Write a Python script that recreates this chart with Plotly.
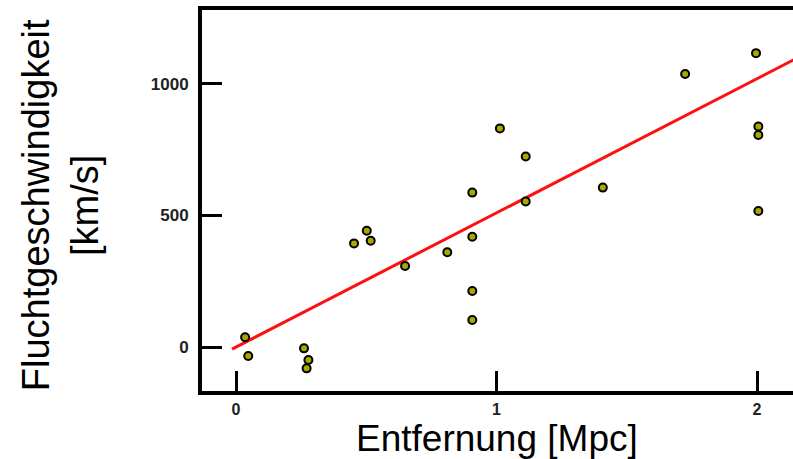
import plotly.graph_objects as go

# Data
distance_mpc = [0.035, 0.047, 0.261, 0.278, 0.271, 0.453, 0.502, 0.517, 0.649, 0.811,
                0.907, 0.907, 0.907, 0.907, 1.013, 1.112, 1.112, 1.408, 1.724, 1.996,
                2.005, 2.005, 2.005]
velocity_kms = [37, -34, -5, -49, -81, 394, 442, 404, 308, 360,
                587, 419, 213, 103, 831, 724, 553, 606, 1038, 1117,
                838, 806, 517]

fit_x = [-0.015, 2.25]
fit_slope = 510
fit_y = [fit_slope * v for v in fit_x]

x_ticks = [0, 1, 2]
x_tick_labels = ["0", "1", "2"]
y_ticks = [0, 500, 1000]
y_tick_labels = ["0", "500", "1000"]

fig = go.Figure()
fig.add_trace(go.Scatter(x=fit_x, y=fit_y, mode="lines",
                         line=dict(color="#ff1010", width=3), hoverinfo="skip"))
fig.add_trace(go.Scatter(x=distance_mpc, y=velocity_kms, mode="markers",
                         marker=dict(size=8, color="#a8a800",
                                     line=dict(color="black", width=2))))

fig.update_layout(
    width=793, height=459,
    margin=dict(l=202, r=0, t=10, b=68),
    paper_bgcolor="white", plot_bgcolor="white",
    showlegend=False,
    font=dict(family="Liberation Sans, Arial, sans-serif", color="black"),
)
fig.update_xaxes(range=[-0.1305, 2.138], showgrid=False, zeroline=False,
                 showline=True, linecolor="black", linewidth=4, mirror=True,
                 ticks="inside", ticklen=20, tickwidth=3, tickcolor="black",
                 tickvals=x_ticks, ticktext=x_tick_labels,
                 tickfont=dict(size=16, family="Liberation Sans, Arial", color="#222",
                               weight="bold"),
                 ticklabelstandoff=1)
fig.update_yaxes(range=[-167, 1281], showgrid=False, zeroline=False,
                 showline=True, linecolor="black", linewidth=4, mirror=False,
                 ticks="inside", ticklen=20, tickwidth=3, tickcolor="black",
                 tickvals=y_ticks, ticktext=y_tick_labels,
                 tickfont=dict(size=17, family="Liberation Sans, Arial", color="#222",
                               weight="bold"),
                 ticklabelstandoff=6)

fig.add_annotation(text="Entfernung [Mpc]", xref="paper", yref="paper",
                   x=0.499, y=-0.124, xanchor="center", yanchor="middle",
                   showarrow=False, font=dict(size=37, color="black"))
fig.add_annotation(text="Fluchtgeschwindigkeit<br>[km/s]", xref="paper", yref="paper",
                   x=-0.240, y=0.488, xanchor="center", yanchor="middle",
                   textangle=-90, showarrow=False, font=dict(size=38, color="black"))

fig.write_html("out.html", config={"displayModeBar": False},
               post_script="document.body.style.margin='0';document.body.style.overflow='hidden';")
